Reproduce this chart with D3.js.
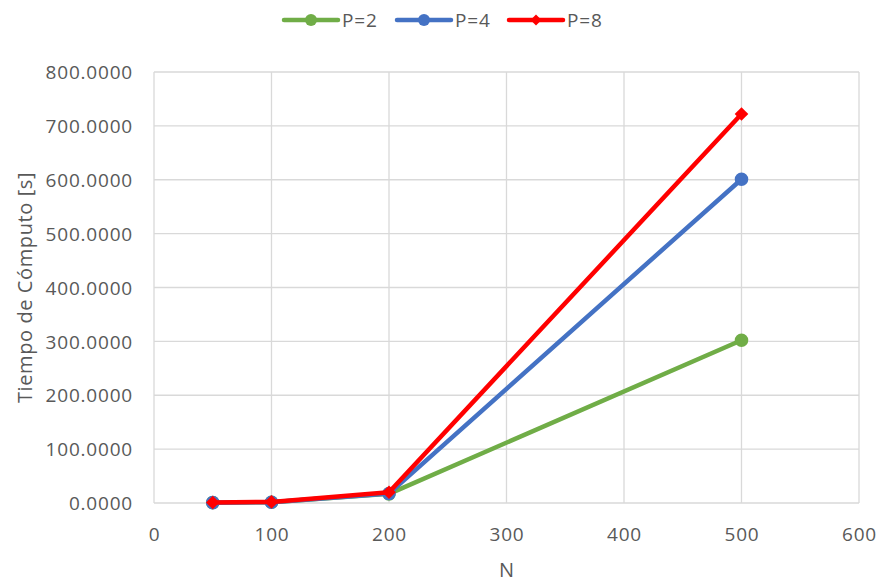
<!DOCTYPE html>
<html>
<head>
<meta charset="utf-8">
<script src="https://cdn.jsdelivr.net/npm/d3@7/dist/d3.min.js"></script>
<style>
  html, body { margin: 0; padding: 0; background: #fff; }
  svg { display: block; font-family: "Open Sans", "Liberation Sans", sans-serif; }
</style>
</head>
<body>
<svg id="chart" width="878" height="582"></svg>
<script>
// Problem sizes (N) and computation times in seconds per process count
const sizes = [50, 100, 200, 500];
const timesP2 = [0.6, 1.5, 17, 302];
const timesP4 = [0.6, 1.5, 17.5, 601];
const timesP8 = [0.8, 2.0, 20, 722];
const seriesNames = ["P=2", "P=4", "P=8"];
const seriesColors = ["#70AD47", "#4472C4", "#FF0000"];
const seriesMarkers = ["circle", "circle", "diamond"];
const xTicks = [0, 100, 200, 300, 400, 500, 600];
const yTicks = [0, 100, 200, 300, 400, 500, 600, 700, 800];

const series = [timesP2, timesP4, timesP8].map((vals, i) => ({
  name: seriesNames[i],
  color: seriesColors[i],
  marker: seriesMarkers[i],
  points: sizes.map((n, j) => ({ n, t: vals[j] }))
}));

const svg = d3.select("#chart");
const margin = { left: 154, right: 19, top: 72, bottom: 79 };
const W = 878, H = 582;

const x = d3.scaleLinear().domain([0, 600]).range([margin.left, W - margin.right]);
const y = d3.scaleLinear().domain([0, 800]).range([H - margin.bottom, margin.top]);

const textColor = "#595959";
const gridColor = "#D9D9D9";
const labelFont = "19px";
const labelSpacing = "0.8px";

// Gridlines
const grid = svg.append("g");
grid.selectAll("line.h").data(yTicks).join("line")
  .attr("x1", x(0)).attr("x2", x(600))
  .attr("y1", d => y(d)).attr("y2", d => y(d))
  .attr("stroke", gridColor).attr("stroke-width", 1.3);
grid.selectAll("line.v").data(xTicks).join("line")
  .attr("y1", y(0)).attr("y2", y(800))
  .attr("x1", d => x(d)).attr("x2", d => x(d))
  .attr("stroke", gridColor).attr("stroke-width", 1.3);

// Axes (labels only)
const yAxis = svg.append("g")
  .attr("transform", `translate(${x(0)},0)`)
  .call(d3.axisLeft(y).tickValues(yTicks).tickFormat(d3.format(".4f")).tickSize(0).tickPadding(21));
const xAxis = svg.append("g")
  .attr("transform", `translate(0,${y(0)})`)
  .call(d3.axisBottom(x).tickValues(xTicks).tickFormat(d3.format("d")).tickSize(0).tickPadding(25));
[yAxis, xAxis].forEach(a => {
  a.select(".domain").remove();
  a.selectAll("text").attr("fill", textColor)
    .style("font-size", labelFont).style("letter-spacing", labelSpacing)
    .style("font-family", "'Open Sans', 'Liberation Sans', sans-serif");
});
yAxis.selectAll("text").attr("dy", "0.35em");

// Axis titles
svg.append("text")
  .attr("x", (x(0) + x(600)) / 2).attr("y", 577)
  .attr("text-anchor", "middle").attr("fill", textColor)
  .style("font-size", "20px").text("N");
svg.append("text")
  .attr("transform", `translate(32,${(y(0) + y(800)) / 2}) rotate(-90)`)
  .attr("text-anchor", "middle").attr("fill", textColor)
  .style("font-size", "20px").style("letter-spacing", "0.6px")
  .text("Tiempo de Cómputo [s]");

// Lines and markers
const line = d3.line().x(d => x(d.n)).y(d => y(d.t));
const circlePath = r => d3.symbol().type(d3.symbolCircle).size(Math.PI * r * r)();
const diamondPath = r => `M0,${-r}L${r},0L0,${r}L${-r},0Z`;

series.forEach(s => {
  const g = svg.append("g");
  g.append("path").datum(s.points)
    .attr("d", line).attr("fill", "none")
    .attr("stroke", s.color).attr("stroke-width", 4.5)
    .attr("stroke-linejoin", "round").attr("stroke-linecap", "round");
  g.selectAll("path.m").data(s.points).join("path")
    .attr("class", "m")
    .attr("transform", d => `translate(${x(d.n)},${y(d.t)})`)
    .attr("d", s.marker === "circle" ? circlePath(6.8) : diamondPath(6.8))
    .attr("fill", s.color);
});

// Legend
const legendItems = [
  { s: series[0], x0: 284 },
  { s: series[1], x0: 397 },
  { s: series[2], x0: 509 }
];
const lg = svg.append("g");
legendItems.forEach(({ s, x0 }) => {
  const ly = 20;
  lg.append("line").attr("x1", x0).attr("x2", x0 + 54).attr("y1", ly).attr("y2", ly)
    .attr("stroke", s.color).attr("stroke-width", 4.5).attr("stroke-linecap", "round");
  lg.append("path").attr("transform", `translate(${x0 + 27},${ly})`)
    .attr("d", s.marker === "circle" ? circlePath(6) : diamondPath(5.5))
    .attr("fill", s.color);
  lg.append("text").attr("x", x0 + 58).attr("y", ly).attr("dy", "0.36em")
    .attr("fill", textColor).style("font-size", labelFont).style("letter-spacing", labelSpacing)
    .text(s.name);
});
</script>
</body>
</html>
